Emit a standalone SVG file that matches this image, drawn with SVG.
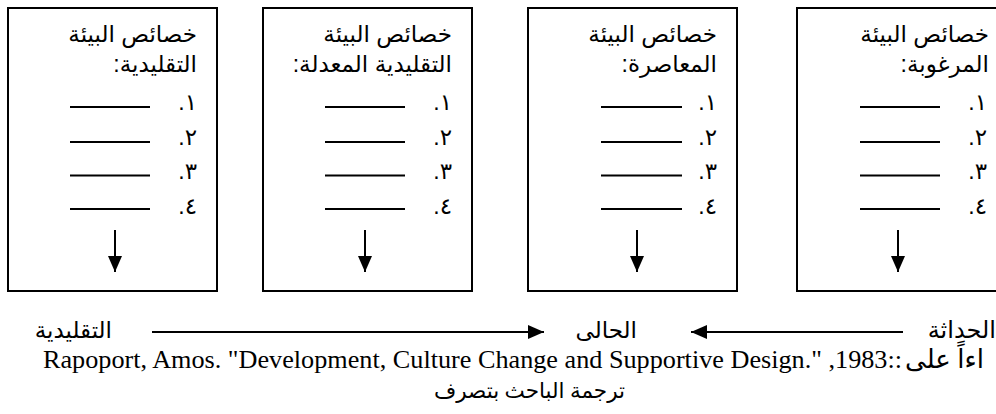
<svg xmlns="http://www.w3.org/2000/svg" width="996" height="414" viewBox="0 0 996 414">
<defs>
<style>
.box{fill:#fff;stroke:#000;stroke-width:2}
.ar{font-family:"Liberation Sans","DejaVu Sans",sans-serif;font-size:23px;fill:#000;direction:rtl;unicode-bidi:embed}
.arb{font-family:"Liberation Serif","DejaVu Sans",serif;font-size:23px;fill:#000}
.rtl{direction:rtl;unicode-bidi:embed}
.ul{stroke:#000;stroke-width:1.8}
.ln{stroke:#000;stroke-width:2;fill:none}
.lat{font-family:"Liberation Serif",serif;font-size:25px;fill:#000}
</style>
<marker id="ah" viewBox="0 0 16 14" refX="16" refY="7" markerWidth="16" markerHeight="14" markerUnits="userSpaceOnUse" orient="auto">
<path d="M0,0 L16,7 L0,14 Z" fill="#000"/>
</marker>
</defs>
<rect width="996" height="414" fill="#fff"/>

<g id="node-traditional">
<rect class="box" x="8" y="8" width="209" height="283"/>
<text class="ar" x="197" y="42" text-anchor="start">خصائص البيئة</text>
<text class="ar" x="197" y="72" text-anchor="start">التقليدية:</text>
<text class="ar" x="197" y="110" text-anchor="start">١.</text>
<text class="ar" x="197" y="144.5" text-anchor="start">٢.</text>
<text class="ar" x="197" y="179" text-anchor="start">٣.</text>
<text class="ar" x="197" y="213.5" text-anchor="start">٤.</text>
<line class="ul" x1="70" y1="107" x2="150" y2="107"/>
<line class="ul" x1="70" y1="142" x2="150" y2="142"/>
<line class="ul" x1="70" y1="175.5" x2="150" y2="175.5"/>
<line class="ul" x1="70" y1="209" x2="150" y2="209"/>
<line class="ln" x1="115" y1="230" x2="115" y2="272" marker-end="url(#ah)"/>
</g>

<g id="node-modified">
<rect class="box" x="263" y="8" width="209" height="283"/>
<text class="ar" x="452" y="42" text-anchor="start">خصائص البيئة</text>
<text class="ar" x="452" y="72" text-anchor="start">التقليدية المعدلة:</text>
<text class="ar" x="452" y="110" text-anchor="start">١.</text>
<text class="ar" x="452" y="144.5" text-anchor="start">٢.</text>
<text class="ar" x="452" y="179" text-anchor="start">٣.</text>
<text class="ar" x="452" y="213.5" text-anchor="start">٤.</text>
<line class="ul" x1="325" y1="107" x2="405" y2="107"/>
<line class="ul" x1="325" y1="142" x2="405" y2="142"/>
<line class="ul" x1="325" y1="175.5" x2="405" y2="175.5"/>
<line class="ul" x1="325" y1="209" x2="405" y2="209"/>
<line class="ln" x1="365" y1="230" x2="365" y2="272" marker-end="url(#ah)"/>
</g>

<g id="node-contemporary">
<rect class="box" x="528" y="8" width="209" height="283"/>
<text class="ar" x="717" y="42" text-anchor="start">خصائص البيئة</text>
<text class="ar" x="717" y="72" text-anchor="start">المعاصرة:</text>
<text class="ar" x="717" y="110" text-anchor="start">١.</text>
<text class="ar" x="717" y="144.5" text-anchor="start">٢.</text>
<text class="ar" x="717" y="179" text-anchor="start">٣.</text>
<text class="ar" x="717" y="213.5" text-anchor="start">٤.</text>
<line class="ul" x1="601" y1="107" x2="682" y2="107"/>
<line class="ul" x1="601" y1="142" x2="682" y2="142"/>
<line class="ul" x1="601" y1="175.5" x2="682" y2="175.5"/>
<line class="ul" x1="601" y1="209" x2="682" y2="209"/>
<line class="ln" x1="637" y1="230" x2="637" y2="272" marker-end="url(#ah)"/>
</g>

<g id="node-desired">
<rect class="box" x="797" y="8" width="209" height="283"/>
<text class="ar" x="989" y="42" text-anchor="start">خصائص البيئة</text>
<text class="ar" x="989" y="72" text-anchor="start">المرغوبة:</text>
<text class="ar" x="987" y="110" text-anchor="start">١.</text>
<text class="ar" x="987" y="144.5" text-anchor="start">٢.</text>
<text class="ar" x="987" y="179" text-anchor="start">٣.</text>
<text class="ar" x="987" y="213.5" text-anchor="start">٤.</text>
<line class="ul" x1="860" y1="107" x2="940" y2="107"/>
<line class="ul" x1="860" y1="142" x2="940" y2="142"/>
<line class="ul" x1="860" y1="175.5" x2="940" y2="175.5"/>
<line class="ul" x1="860" y1="209" x2="940" y2="209"/>
<line class="ln" x1="898" y1="230" x2="898" y2="272" marker-end="url(#ah)"/>
</g>

<g id="connectors">
<line class="ln" x1="152" y1="332" x2="544" y2="332" marker-end="url(#ah)"/>
<line class="ln" x1="903" y1="332" x2="691" y2="332" marker-end="url(#ah)"/>
</g>

<g id="labels">
<text class="arb rtl" x="112" y="338" text-anchor="start">التقليدية</text>
<text class="arb rtl" x="637" y="338" text-anchor="start">الحالى</text>
<text class="arb rtl" x="996" y="338" text-anchor="start" style="font-size:24px">الحداثة</text>
<text class="lat" x="43" y="368" textLength="859" lengthAdjust="spacingAndGlyphs">Rapoport, Amos. "Development, Culture Change and Supportive Design." ,1983::</text>
<text class="arb" x="905" y="368" style="font-size:26px">اءاً على</text>
<text class="arb rtl" x="625" y="398" text-anchor="start" style="font-size:21.5px">ترجمة الباحث بتصرف</text>
</g>
</svg>
